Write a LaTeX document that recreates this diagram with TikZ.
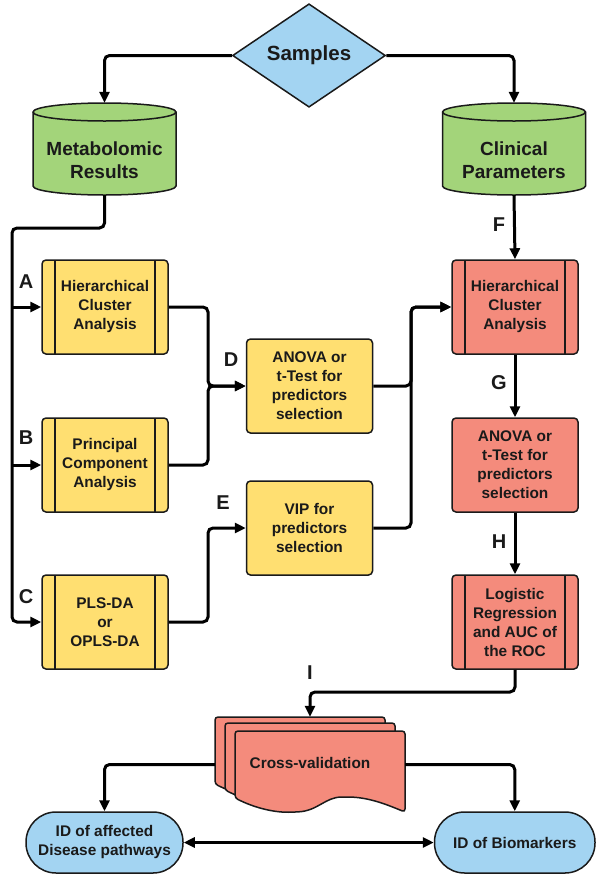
\documentclass[tikz,border=0pt]{standalone}
\usepackage{fontspec}
\setmainfont{Liberation Sans}
\usetikzlibrary{arrows.meta,shapes.geometric}
\definecolor{cgreen}{HTML}{A3D47A}
\definecolor{cyellow}{HTML}{FFDF71}
\definecolor{csalmon}{HTML}{F48B7C}
\definecolor{cblue}{HTML}{A3D4F2}
\definecolor{cink}{HTML}{1A1A1A}
\tikzset{
  conn/.style={line width=3pt, draw=black, rounded corners=5pt, -{Triangle[length=11pt,width=10pt]}},
  txt/.style={font=\bfseries\fontsize{15.4}{19}\selectfont, text=cink, align=center},
  cyltxt/.style={txt, font=\bfseries\fontsize{19}{22.7}\selectfont},
  box/.style={txt, draw=cink, line width=1.5pt, rounded corners=4pt, minimum width=126pt, minimum height=94pt, inner sep=0pt},
  proc/.style={box, path picture={
      \draw[cink, line width=1.5pt] ([xshift=13pt]path picture bounding box.north west) -- ([xshift=13pt]path picture bounding box.south west);
      \draw[cink, line width=1.5pt] ([xshift=-13pt]path picture bounding box.north east) -- ([xshift=-13pt]path picture bounding box.south east);}},
  lbl/.style={font=\bfseries\fontsize{20}{22}\selectfont, text=cink},
  stadium/.style={txt, draw=cink, line width=1.5pt, fill=cblue, rounded corners=30pt, minimum height=61pt, inner sep=0pt},
  cylline/.style={draw=cink, line width=1.5pt},
  docpage/.style={draw=cink, line width=1.5pt, fill=csalmon, rounded corners=3pt},
}
\newcommand\drawcyl[2]{% #1 = left x, #2 = right x
  \path[cylline, fill=cgreen] (#1,112) -- (#1,186) arc[start angle=180,end angle=360,x radius=71.5pt,y radius=9pt]
    -- (#2,112) arc[start angle=0,end angle=180,x radius=71.5pt,y radius=9pt] -- cycle;
  \draw[cylline] (#1,112) arc[start angle=180,end angle=360,x radius=71.5pt,y radius=9pt];}
\newcommand\docsheet[1]{%
  \path[docpage, shift={#1}] (235,798) .. controls (255,808) and (275,813) .. (295,812)
    .. controls (318,811) and (325,797) .. (345,797)
    .. controls (370,797) and (390,806) .. (405,812) -- (405,731) -- (235,731) -- cycle;}
\begin{document}
\begin{tikzpicture}[x=1pt,y=-1pt]
\useasboundingbox (0,0) rectangle (604,884);

% cylinders
\drawcyl{33}{176}
\drawcyl{442.5}{585.5}
\node[minimum width=143pt, minimum height=92pt, inner sep=0pt] (met) at (104.5,149) {};
\node[minimum width=143pt, minimum height=92pt, inner sep=0pt] (clin) at (514,149) {};
\node[cyltxt] (mettext) at (104.5,160) {Metabolomic\\Results};
\node[cyltxt] (clintext) at (514,160) {Clinical\\Parameters};

% diamond
\node[shape=diamond, draw=cink, line width=1.5pt, fill=cblue, minimum width=153pt, minimum height=93pt, inner sep=0pt, font=\bfseries\fontsize{20.5}{23}\selectfont, text=cink] (samples) at (309,55.5) {Samples};

% left boxes
\node[proc, fill=cyellow] (A) at (105,307) {Hierarchical\\Cluster\\Analysis};
\node[proc, fill=cyellow] (B) at (105,465) {Principal\\Component\\Analysis};
\node[proc, fill=cyellow] (C) at (105,622) {PLS-DA\\or\\OPLS-DA};
\node[box, fill=cyellow] (D) at (309.5,386) {ANOVA or\\t-Test for\\predictors\\selection};
\node[box, fill=cyellow] (E) at (309.5,528) {VIP for\\predictors\\selection};

% right boxes
\node[proc, fill=csalmon] (hca) at (515,307) {Hierarchical\\Cluster\\Analysis};
\node[box, fill=csalmon] (anova) at (515,465) {ANOVA or\\t-Test for\\predictors\\selection};
\node[proc, fill=csalmon] (logit) at (515,622) {Logistic\\Regression\\and AUC of\\the ROC};

% cross-validation
\docsheet{(-20,-14)}
\docsheet{(-10,-8)}
\docsheet{(0,0)}
\node[minimum width=190pt, minimum height=95pt, inner sep=0pt] (cv) at (310,764.5) {};
\node[txt] (cvtext) at (310,763) {Cross-validation};

% end nodes
\node[stadium, minimum width=157pt] (path) at (104.5,842.5) {ID of affected\\Disease pathways};
\node[stadium, minimum width=160.5pt] (bio) at (514.75,842.5) {ID of Biomarkers};

% helper coordinates
\coordinate (m1) at (104.5,228);
\coordinate (tl) at (12,228);
\coordinate (jd) at (208,386);
\coordinate (je) at (208,528);
\coordinate (jr) at (411,386);
\coordinate (jr2) at (411,528);
\coordinate (li) at (515,692);

% connectors
\draw[conn] (samples.west) -| (met.north);
\draw[conn] (samples.east) -| (clin.north);
\draw[conn] (met.south) -- (m1) -- (tl) |- (C.west);
\draw[conn] (tl |- A.west) -- (A.west);
\draw[conn] (tl |- B.west) -- (B.west);
\draw[conn] (A.east) -| (jd) -- (D.west);
\draw[conn] (B.east) -| (jd) -- (D.west);
\draw[conn] (C.east) -| (je) -- (E.west);
\draw[conn] (D.east) -- (jr) |- (hca.west);
\draw[conn] (E.east) -- (jr2) |- (hca.west);
\draw[conn] (clin.south) -- (hca.north);
\draw[conn] (hca.south) -- (anova.north);
\draw[conn] (anova.south) -- (logit.north);
\draw[conn] (logit.south) -- (li) -| (cv.north);
\draw[conn] (cv.west) -| (path.north);
\draw[conn] (cv.east) -| (bio.north);
\draw[line width=3pt, {Triangle[length=11pt,width=10pt]}-{Triangle[length=11pt,width=10pt]}] (path.east) -- (bio.west);

% labels
\node[lbl] (la) at (26,282) {A};
\node[lbl] (lb) at (26,438) {B};
\node[lbl] (lc) at (26,597) {C};
\node[lbl] (ld) at (231,360) {D};
\node[lbl] (le) at (223,503) {E};
\node[lbl] (lf) at (499,225) {F};
\node[lbl] (lg) at (499,383) {G};
\node[lbl] (lh) at (499,542) {H};
\node[lbl] (li2) at (310,673) {I};
\end{tikzpicture}
\end{document}
